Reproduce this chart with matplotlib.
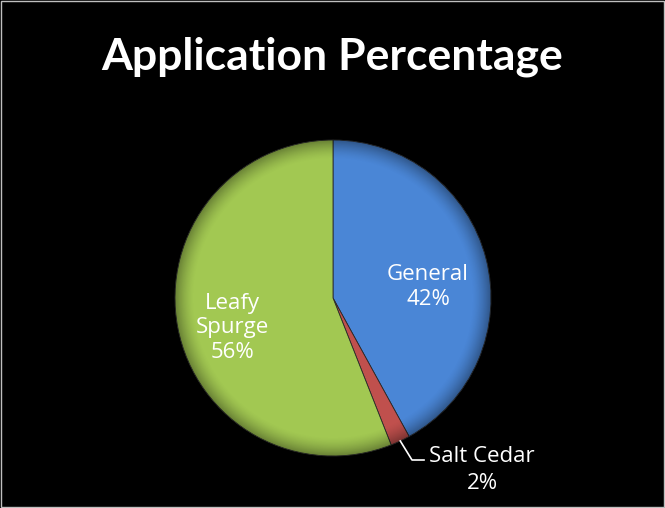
import matplotlib.pyplot as plt
import numpy as np

plt.rcParams['font.family'] = ['Open Sans', 'DejaVu Sans']

categories = ['General', 'Salt Cedar', 'Leafy Spurge']
shares = [42, 2, 56]
colors = ['#4a86d6', '#c0504d', '#a2c852']

W, H = 665, 508
fig = plt.figure(figsize=(W / 100, H / 100), dpi=100, facecolor='black')
ax = fig.add_axes([0, 0, 1, 1])
ax.set_facecolor('black')

cx, cy, r = 333, H - 298, 158
wedges, _ = ax.pie(shares, colors=colors, startangle=90, counterclock=False,
                   center=(cx, cy), radius=r,
                   wedgeprops=dict(edgecolor='#2a2a2a', linewidth=0.6))
ax.set_xlim(0, W)
ax.set_ylim(0, H)
ax.set_aspect('equal')
ax.axis('off')

# soft bevel: darken towards the rim, slight light at the top
g = np.linspace(-1, 1, 400)
gx, gy = np.meshgrid(g, g)
rr = np.hypot(gx, gy)
shade = np.zeros((400, 400, 4))
edge = np.clip((rr - 0.88) / 0.12, 0, 1) ** 1.5 * 0.35
shade[..., 3] = edge
img = ax.imshow(shade, extent=(cx - r, cx + r, cy - r, cy + r), origin='lower',
                zorder=3, interpolation='bilinear')
img.set_clip_path(plt.Circle((cx, cy), r, transform=ax.transData))

# labels
tc = 'white'
fs = 16
ax.text(428, H - 287, f'{categories[0]}\n{shares[0]}%', color=tc, fontsize=fs,
        ha='center', va='center', linespacing=1.25, zorder=5)
ax.text(232, H - 328, 'Leafy\nSpurge\n' + f'{shares[2]}%', color=tc, fontsize=fs,
        ha='center', va='center', linespacing=1.25, zorder=5)

# leader line for the small slice
w = wedges[1]
mid = np.deg2rad((w.theta1 + w.theta2) / 2)
x0, y0 = cx + r * np.cos(mid), cy + r * np.sin(mid)
ax.plot([x0, 412, 424], [y0, H - 460, H - 460], color='white', lw=1.2, zorder=5)
ax.text(482, H - 470, f'{categories[1]}\n{shares[1]}%', color=tc, fontsize=fs,
        ha='center', va='center', linespacing=1.35)

ax.set_xlim(0, W)
ax.set_ylim(0, H)

fig.text(0.5, (H - 57) / H, 'Application Percentage', color='white',
         fontsize=32, fontweight='bold', ha='center', va='center',
         family=['Lato', 'DejaVu Sans'])

# thin frame around the chart area
fig.patches.append(plt.Rectangle((0.001, 0.001), 0.998, 0.998, transform=fig.transFigure,
                                 fill=False, edgecolor='#bfbfbf', lw=1))

fig.savefig('out.png', dpi=100, facecolor='black')
